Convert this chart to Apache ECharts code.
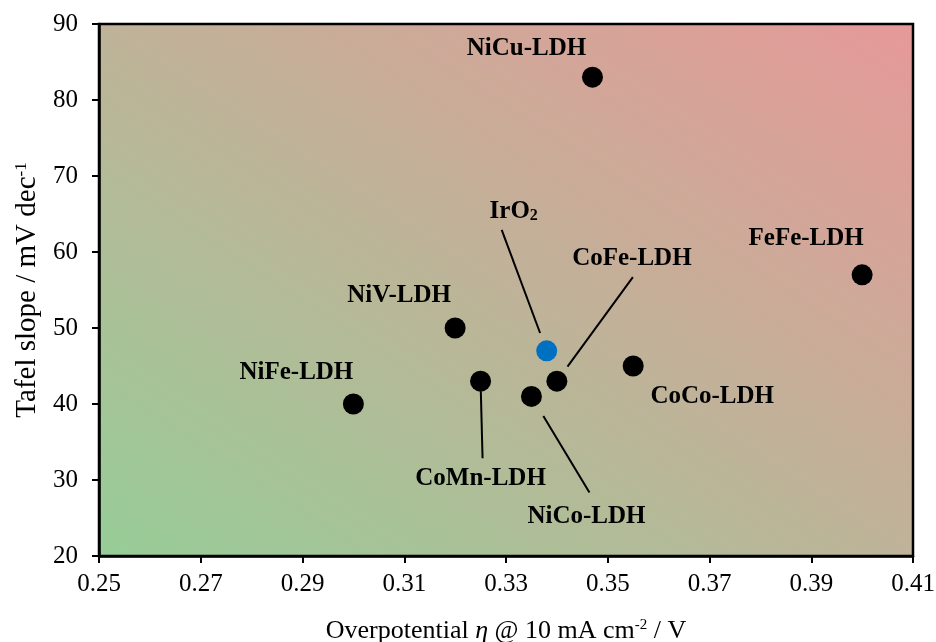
<!DOCTYPE html>
<html>
<head>
<meta charset="utf-8">
<script src="https://cdn.jsdelivr.net/npm/echarts@6/dist/echarts.min.js"></script>
<style>
html,body{margin:0;padding:0;background:#fff;}
#chart{width:936px;height:642px;}
</style>
</head>
<body>
<div id="chart"></div>
<script>
// Data
var names = ['NiFe-LDH', 'NiV-LDH', 'CoMn-LDH', 'NiCo-LDH', 'CoFe-LDH', 'CoCo-LDH', 'NiCu-LDH', 'FeFe-LDH'];
var overpotential = [0.300, 0.320, 0.325, 0.335, 0.340, 0.355, 0.347, 0.400];
var tafel = [40, 50, 43, 41, 43, 45, 83, 57];
var refName = 'IrO2';
var refOverpotential = [0.338];
var refTafel = [47];

// Annotation layout: pixel offsets of labels from their markers and leader-line geometry
var labelPlacement = {
  'NiFe-LDH': { dx: -57, dy: -31 },
  'NiV-LDH':  { dx: -56, dy: -32 },
  'CoMn-LDH': { dx: 0,   dy: 97,   line: { ex: 2,   ey: 77,   start: 10 } },
  'NiCo-LDH': { dx: 55,  dy: 120,  line: { ex: 58,  ey: 96,   start: 23 } },
  'CoFe-LDH': { dx: 75,  dy: -123, line: { ex: 76,  ey: -104, start: 18 } },
  'CoCo-LDH': { dx: 79,  dy: 31 },
  'NiCu-LDH': { dx: -66, dy: -29 },
  'FeFe-LDH': { dx: -56, dy: -36 },
  'IrO2':     { dx: -33, dy: -139, line: { ex: -45, ey: -121, start: 19 } }
};

var FONT = '"Liberation Serif", "Times New Roman", serif';

// leader lines: one item per annotated point, taken from the data arrays
var leaderData = [];
names.forEach(function (n, i) {
  if (labelPlacement[n].line) leaderData.push({ name: n, value: [overpotential[i], tafel[i]] });
});
refOverpotential.forEach(function (x, i) {
  leaderData.push({ name: refName, value: [x, refTafel[i]] });
});

var chart = echarts.init(document.getElementById('chart'));

var option = {
  animation: false,
  backgroundColor: '#ffffff',
  grid: {
    left: 99, right: 23, top: 24, bottom: 86,
    outerBoundsMode: 'none',
    containLabel: false,
    show: true,
    borderColor: '#000',
    borderWidth: 2.5,
    backgroundColor: new echarts.graphic.LinearGradient(0, 1, 0.599, -0.401, [
      { offset: 0, color: '#97CD97' },
      { offset: 1, color: '#E69999' }
    ])
  },
  xAxis: {
    type: 'value',
    min: 0.25, max: 0.41, interval: 0.02,
    splitLine: { show: false },
    axisLine: { show: true, onZero: false, lineStyle: { color: '#000', width: 2.5 } },
    axisTick: { show: true, length: 7, lineStyle: { color: '#000', width: 2 } },
    axisLabel: {
      color: '#000', fontFamily: FONT, fontSize: 25, margin: 16,
      formatter: function (v) { return v.toFixed(2); }
    },
    name: 'Overpotential {i|η} @ 10 mA cm{sup|-2} / V',
    nameLocation: 'middle',
    nameGap: 62,
    nameTextStyle: {
      color: '#000', fontFamily: FONT, fontSize: 26,
      rich: {
        i: { fontFamily: FONT, fontSize: 26, fontStyle: 'italic', color: '#000' },
        sup: { fontFamily: FONT, fontSize: 15, verticalAlign: 'top', color: '#000' }
      }
    }
  },
  yAxis: {
    type: 'value',
    min: 20, max: 90, interval: 10,
    splitLine: { show: false },
    axisLine: { show: true, onZero: false, lineStyle: { color: '#000', width: 2.5 } },
    axisTick: { show: true, length: 7, lineStyle: { color: '#000', width: 2 } },
    axisLabel: { color: '#000', fontFamily: FONT, fontSize: 25, margin: 21 },
    name: 'Tafel slope / mV dec{sup|-1}',
    nameLocation: 'middle',
    nameGap: 57,
    nameTextStyle: {
      color: '#000', fontFamily: FONT, fontSize: 29,
      rich: {
        sup: { fontFamily: FONT, fontSize: 17, verticalAlign: 'top', color: '#000' }
      }
    }
  },
  series: [
    {
      name: 'leader',
      type: 'custom',
      silent: true,
      data: leaderData,
      encode: { x: 0, y: 1 },
      renderItem: function (params, api) {
        var item = leaderData[params.dataIndex];
        var cfg = labelPlacement[item.name].line;
        var c = api.coord([api.value(0), api.value(1)]);
        var ex = c[0] + cfg.ex, ey = c[1] + cfg.ey;
        var len = Math.sqrt(cfg.ex * cfg.ex + cfg.ey * cfg.ey);
        var sx = c[0] + cfg.ex / len * cfg.start;
        var sy = c[1] + cfg.ey / len * cfg.start;
        return {
          type: 'line',
          shape: { x1: sx, y1: sy, x2: ex, y2: ey },
          style: { stroke: '#000', lineWidth: 2 }
        };
      }
    },
    {
      name: 'LDH',
      type: 'scatter',
      symbol: 'circle',
      symbolSize: 21,
      itemStyle: { color: '#000', opacity: 1 },
      data: names.map(function (n, i) { return { name: n, value: [overpotential[i], tafel[i]] }; }),
      label: {
        show: true,
        position: 'inside',
        formatter: '{b}',
        color: '#000',
        fontFamily: FONT,
        fontWeight: 'bold',
        fontSize: 25
      },
      labelLayout: function (p) {
        var cfg = labelPlacement[names[p.dataIndex]];
        return { dx: cfg.dx, dy: cfg.dy };
      }
    },
    {
      name: refName,
      type: 'scatter',
      symbol: 'circle',
      symbolSize: 21,
      itemStyle: { color: '#0070C0', opacity: 1 },
      data: refOverpotential.map(function (x, i) { return { name: refName, value: [x, refTafel[i]] }; }),
      label: {
        show: true,
        position: 'inside',
        formatter: 'IrO{sub|2}',
        color: '#000',
        fontFamily: FONT,
        fontWeight: 'bold',
        fontSize: 25,
        rich: {
          sub: { fontFamily: FONT, fontWeight: 'bold', fontSize: 16, verticalAlign: 'bottom', color: '#000' }
        }
      },
      labelLayout: function () {
        var cfg = labelPlacement[refName];
        return { dx: cfg.dx, dy: cfg.dy };
      }
    }
  ]
};
chart.setOption(option);
</script>
</body>
</html>
